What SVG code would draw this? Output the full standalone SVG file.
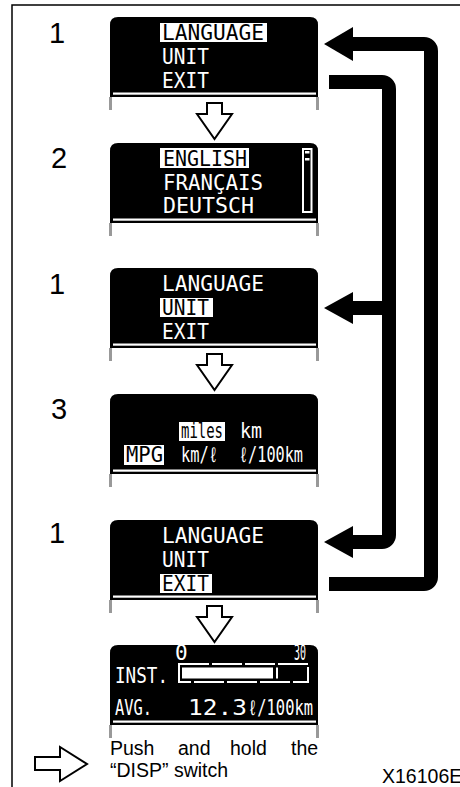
<svg xmlns="http://www.w3.org/2000/svg" xmlns:xlink="http://www.w3.org/1999/xlink" width="460" height="787" viewBox="0 0 460 787">
<style>
.lcd{font-family:"DejaVu Sans Mono","Liberation Mono",monospace;fill:#fff;font-size:21px}
.inv{fill:#000}
.hl{fill:#fff}
.num{font-family:"Liberation Sans",Arial,sans-serif;font-size:29px;fill:#000}
.cap{font-family:"Liberation Sans",Arial,sans-serif;font-size:19.5px;fill:#000}
.hollow{fill:#fff;stroke:#000;stroke-width:2;stroke-linejoin:miter}
.flow{fill:none;stroke:#000;stroke-width:14}
.head{fill:#000}
</style>
<defs>
<g id="scr">
<path d="M110,80 V8 Q110,0 118,0 H310 Q318,0 318,8 V80 Z" fill="#000"/>
<rect x="113" y="75.5" width="203" height="2.2" fill="#fff"/>
<rect x="109" y="80" width="3" height="13" fill="#999"/>
<rect x="316" y="80" width="3" height="13" fill="#999"/>
</g>
</defs>
<rect width="460" height="787" fill="#fff"/>
<path d="M12,787 V5 H460" fill="none" stroke="#000" stroke-width="1.5"/>

<g id="num-labels">
<text class="num" x="49" y="43">1</text>
<text class="num" x="51" y="168">2</text>
<text class="num" x="49" y="294">1</text>
<text class="num" x="51" y="419">3</text>
<text class="num" x="49" y="543">1</text>
</g>

<g id="screen1" transform="translate(0,17)">
<use xlink:href="#scr" href="#scr"/>
<rect class="hl" x="160" y="6" width="107" height="19"/>
<text class="lcd inv" x="162" y="23" textLength="102" lengthAdjust="spacingAndGlyphs">LANGUAGE</text>
<text class="lcd" x="162" y="47" textLength="47" lengthAdjust="spacingAndGlyphs">UNIT</text>
<text class="lcd" x="162" y="71" textLength="47" lengthAdjust="spacingAndGlyphs">EXIT</text>
</g>

<g id="screen2" transform="translate(0,143)">
<use xlink:href="#scr" href="#scr"/>
<rect class="hl" x="160" y="5" width="89" height="20"/>
<text class="lcd inv" x="163" y="23" textLength="84" lengthAdjust="spacingAndGlyphs">ENGLISH</text>
<text class="lcd" x="163" y="47" textLength="100" lengthAdjust="spacingAndGlyphs">FRANÇAIS</text>
<text class="lcd" x="163" y="70" textLength="91" lengthAdjust="spacingAndGlyphs">DEUTSCH</text>
<rect x="303" y="6" width="8.5" height="63" fill="none" stroke="#fff" stroke-width="2"/>
<rect x="305" y="8" width="4.5" height="2.5" fill="#fff"/>
<rect x="305" y="15" width="4.5" height="2.5" fill="#fff"/>
</g>

<g id="screen3" transform="translate(0,268)">
<use xlink:href="#scr" href="#scr"/>
<rect class="hl" x="160" y="30" width="53" height="19"/>
<text class="lcd" x="162" y="23" textLength="102" lengthAdjust="spacingAndGlyphs">LANGUAGE</text>
<text class="lcd inv" x="162" y="47" textLength="47" lengthAdjust="spacingAndGlyphs">UNIT</text>
<text class="lcd" x="162" y="71" textLength="47" lengthAdjust="spacingAndGlyphs">EXIT</text>
</g>

<g id="screen4" transform="translate(0,394)">
<use xlink:href="#scr" href="#scr"/>
<rect class="hl" x="179" y="28" width="46" height="19"/>
<text class="lcd inv" x="181" y="44" font-size="17" textLength="42" lengthAdjust="spacingAndGlyphs">miles</text>
<text class="lcd" x="240" y="44" font-size="19" textLength="22" lengthAdjust="spacingAndGlyphs">km</text>
<rect class="hl" x="124" y="51" width="40" height="20"/>
<text class="lcd inv" x="126" y="68" font-size="20" textLength="37" lengthAdjust="spacingAndGlyphs">MPG</text>
<text class="lcd" x="181" y="68" font-size="19" textLength="37" lengthAdjust="spacingAndGlyphs">km/ℓ</text>
<text class="lcd" x="239" y="68" font-size="19" textLength="64" lengthAdjust="spacingAndGlyphs">ℓ/100km</text>
</g>

<g id="screen5" transform="translate(0,520)">
<use xlink:href="#scr" href="#scr"/>
<rect class="hl" x="160" y="54" width="52" height="19"/>
<text class="lcd" x="162" y="23" textLength="102" lengthAdjust="spacingAndGlyphs">LANGUAGE</text>
<text class="lcd" x="162" y="47" textLength="47" lengthAdjust="spacingAndGlyphs">UNIT</text>
<text class="lcd inv" x="162" y="71" textLength="47" lengthAdjust="spacingAndGlyphs">EXIT</text>
</g>

<g id="screen6" transform="translate(0,645)">
<use xlink:href="#scr" href="#scr"/>
<text class="lcd" x="175" y="15" font-size="10">0</text>
<text class="lcd" x="294" y="15" font-size="10" textLength="12" lengthAdjust="spacingAndGlyphs">30</text>
<text class="lcd" x="115" y="38" textLength="53" lengthAdjust="spacingAndGlyphs">INST.</text>
<rect x="179" y="19" width="129" height="18" fill="none" stroke="#fff" stroke-width="2" stroke-dasharray="30 3"/>
<rect x="182" y="22.5" width="91" height="11" fill="#fff"/>
<rect x="276" y="22.5" width="2" height="11" fill="#fff"/>
<text class="lcd" x="115" y="70" font-size="20" textLength="37" lengthAdjust="spacingAndGlyphs">AVG.</text>
<text class="lcd" x="188" y="70" font-size="31" textLength="59" lengthAdjust="spacingAndGlyphs">12.3</text>
<text class="lcd" x="248" y="70" font-size="18" textLength="65" lengthAdjust="spacingAndGlyphs">ℓ/100km</text>
</g>

<g id="connectors">
<polygon class="hollow" points="207,103 222,103 222,114 232,114 214.5,139 197,114 207,114"/>
<polygon class="hollow" points="207,354 222,354 222,365 232,365 214.5,390 197,365 207,365"/>
<polygon class="hollow" points="207,606 222,606 222,617 232,617 214.5,642 197,617 207,617"/>
<path class="flow" d="M329,82 H382 A7,7 0 0 1 389,89 V535 A7,7 0 0 1 382,542 H350"/>
<path class="flow" d="M389,308 H350"/>
<path class="flow" d="M329,584 H424 A7,7 0 0 0 431,577 V51 A7,7 0 0 0 424,44 H350"/>
<polygon class="head" points="324,44 353,27 353,61"/>
<polygon class="head" points="324,308 353,292 353,324"/>
<polygon class="head" points="324,542 353,526 353,558"/>
</g>

<g id="legend">
<polygon class="hollow" points="35,757 60,757 60,747 87,764 60,781 60,770 35,770"/>
<text class="cap" y="755"><tspan x="110">Push</tspan><tspan x="178">and</tspan><tspan x="230">hold</tspan><tspan x="291">the</tspan></text>
<text class="cap" x="110" y="777">“DISP” switch</text>
<text class="cap" x="382" y="783" font-size="16">X16106E</text>
</g>
</svg>
